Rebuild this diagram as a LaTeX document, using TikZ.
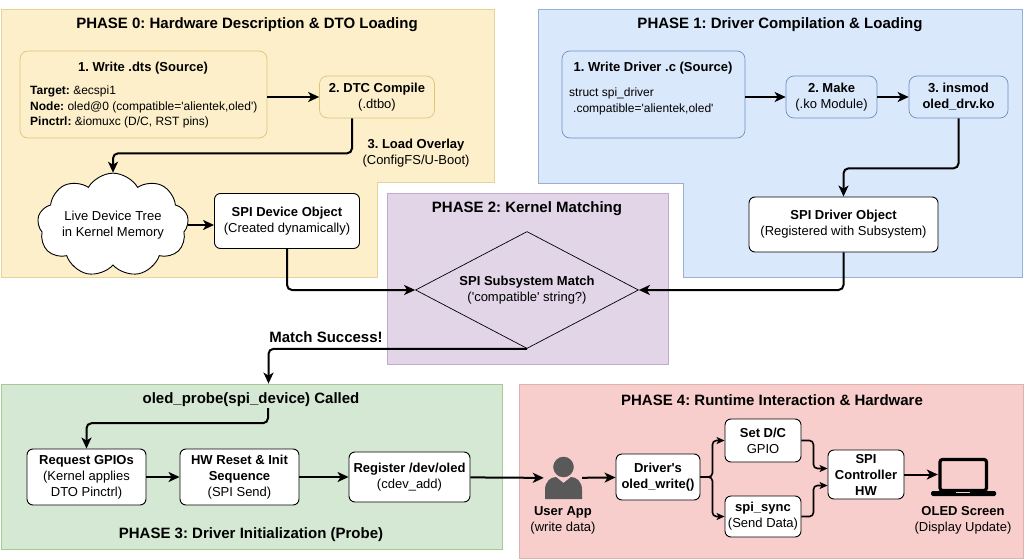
\documentclass[tikz,border=0pt]{standalone}
\usepackage{fontspec}
\setmainfont{Liberation Sans}
\usetikzlibrary{positioning,arrows.meta,shapes.geometric,shapes.symbols}
\frenchspacing

\definecolor{yelfill}{HTML}{FCEFCA}
\definecolor{yelline}{HTML}{D6B656}
\definecolor{blufill}{HTML}{DAE8FC}
\definecolor{bluline}{HTML}{6C8EBF}
\definecolor{purfill}{HTML}{E1D5E7}
\definecolor{purline}{HTML}{9673A6}
\definecolor{grnfill}{HTML}{D5E8D4}
\definecolor{grnline}{HTML}{82B366}
\definecolor{redfill}{HTML}{F8CECC}
\definecolor{redline}{HTML}{B85450}
\definecolor{icongray}{HTML}{595959}

\newcommand{\sq}{\textquotesingle}

\tikzset{
    txt/.style={font=\fontsize{13}{16}\selectfont, align=center, inner sep=1pt},
    code/.style={font=\fontsize{12}{15.5}\selectfont, align=left, anchor=west, inner sep=1pt},
    ttl/.style={font=\fontsize{15}{18}\selectfont\bfseries, inner sep=1pt},
    phase/.style={draw, line width=0.8pt, inner sep=0pt},
    wbox/.style={txt, draw=black, fill=white, rounded corners=6pt, line width=0.9pt},
    ybox/.style={txt, draw=yelline!80, fill=yelfill, rounded corners=8pt, line width=0.7pt},
    bbox/.style={txt, draw=bluline, fill=blufill, rounded corners=8pt, line width=0.7pt},
    flow/.style={line width=2pt, rounded corners=5pt, -{Stealth[length=11pt,width=10pt,inset=3pt]}},
    thinflow/.style={line width=1.6pt, rounded corners=4pt, -{Stealth[length=8pt,width=7pt,inset=2pt]}},
}

\begin{document}
\begin{tikzpicture}[x=1pt,y=-1pt]
    \useasboundingbox (0,0) rectangle (1024,559);

    % Draw the phase areas
    \filldraw[fill=yelfill, draw=yelline!60, line width=0.8pt] (1,9) -- (494,9) -- (494,182) -- (377,182) -- (377,277) -- (1,277) -- cycle;
    \filldraw[fill=blufill, draw=bluline!70, line width=0.8pt] (538,9) -- (1022,9) -- (1022,277) -- (683,277) -- (683,183) -- (538,183) -- cycle;
    \node[phase, fill=purfill, draw=purline!60, minimum width=281pt, minimum height=171pt] (p2) at (527.5,278.5) {};
    \node[phase, fill=grnfill, draw=grnline!70, minimum width=501pt, minimum height=165pt] (p3) at (251.5,466.5) {};
    \node[phase, fill=redfill, draw=redline!45, minimum width=504pt, minimum height=174pt] (p4) at (771,471) {};

    % Draw the titles
    \node[ttl] (t0) at (247,25) {PHASE 0: Hardware Description \& DTO Loading};
    \node[ttl] (t1) at (780,25) {PHASE 1: Driver Compilation \& Loading};
    \node[ttl] (t2) at (527,209) {PHASE 2: Kernel Matching};
    \node[ttl] (t3) at (251,535) {PHASE 3: Driver Initialization (Probe)};
    \node[ttl] (t4) at (772,400) {PHASE 4: Runtime Interaction \& Hardware};

    % Phase 0 nodes
    \node[ybox, minimum width=247pt, minimum height=87pt] (dts) at (143.5,94.5) {};
    \node[txt] (dtshead) at (143,68) {\textbf{1. Write .dts (Source)}};
    \node[code] (dtsbody) at (29,107) {\textbf{Target:} \&ecspi1\\\textbf{Node:} oled@0 (compatible=\sq alientek,oled\sq)\\\textbf{Pinctrl:} \&iomuxc (D/C, RST pins)};
    \node[ybox, minimum width=115pt, minimum height=42pt] (dtc) at (377,97) {\textbf{2. DTC Compile}\\(.dtbo)};
    \node[cloud, cloud puffs=9, cloud puff arc=120, aspect=1.8, draw, fill=white, line width=0.9pt, txt, inner sep=0pt, minimum width=150pt, minimum height=84pt] (ldt) at (113,225) {Live Device Tree\\in Kernel Memory};
    \node[wbox, minimum width=145pt, minimum height=55pt] (devobj) at (287,221) {\textbf{SPI Device Object}\\(Created dynamically)};
    \node[txt] (ovl) at (416,153) {\textbf{3. Load Overlay}\\(ConfigFS/U-Boot)};

    % Phase 1 nodes
    \node[bbox, minimum width=183pt, minimum height=87pt] (drvc) at (653.5,94.5) {};
    \node[txt] (drvchead) at (653,68) {\textbf{1. Write Driver .c (Source)}};
    \node[code] (drvcbody) at (568,101.5) {struct spi\_driver\\\hspace{4pt}.compatible=\sq alientek,oled\sq};
    \node[bbox, minimum width=91pt, minimum height=42pt] (make) at (831.5,97) {\textbf{2. Make}\\(.ko Module)};
    \node[bbox, minimum width=99pt, minimum height=42pt] (insmod) at (958.5,97) {\textbf{3. insmod}\\\textbf{oled\_drv.ko}};
    \node[wbox, minimum width=189pt, minimum height=55pt] (drvobj) at (843.5,224.5) {\textbf{SPI Driver Object}\\(Registered with Subsystem)};

    % Phase 2 node
    \node[diamond, draw, line width=0.7pt, txt, inner sep=0pt, aspect=1.9, minimum width=223pt, minimum height=117pt] (match) at (527,290) {\textbf{SPI Subsystem Match}\\(\sq compatible\sq{} string?)};
    \node[ttl] (success) at (326,337) {Match Success!};

    % Phase 3 nodes
    \node[ttl] (probe) at (251,400) {oled\_probe(spi\_device) Called};
    \node[wbox, minimum width=119pt, minimum height=56pt] (req) at (86.5,477) {\textbf{Request GPIOs}\\(Kernel applies\\DTO Pinctrl)};
    \node[wbox, minimum width=119pt, minimum height=56pt] (hwr) at (239.5,477) {\textbf{HW Reset \& Init}\\\textbf{Sequence}\\(SPI Send)};
    \node[wbox, minimum width=121pt, minimum height=50pt] (reg) at (409.5,477) {\textbf{Register /dev/oled}\\(cdev\_add)};

    % Phase 4 nodes
    \node[minimum width=38pt, minimum height=42pt, inner sep=0pt] (user) at (563,478) {};
    \node[txt] (userlbl) at (563,520.5) {\textbf{User App}\\(write data)};
    \node[wbox, minimum width=84pt, minimum height=46pt] (drvw) at (658,477) {\textbf{Driver\sq s}\\\textbf{oled\_write()}};
    \node[wbox, minimum width=76pt, minimum height=43pt] (setdc) at (763,440.5) {\textbf{Set D/C}\\GPIO};
    \node[wbox, minimum width=76pt, minimum height=41pt] (sync) at (763,516.5) {\textbf{spi\_sync}\\(Send Data)};
    \node[wbox, minimum width=76pt, minimum height=49pt] (spictl) at (866,474.5) {\textbf{SPI}\\\textbf{Controller}\\\textbf{HW}};
    \node[minimum width=50pt, minimum height=34pt, inner sep=0pt] (oled) at (963,475) {};
    \node[txt] (oledlbl) at (963,520.5) {\textbf{OLED Screen}\\(Display Update)};

    % Draw the icons
    \fill[icongray] (545,499) -- (545,490) .. controls (545,481) and (551,477) .. (556,477) -- (563.5,483) -- (571,477) .. controls (576,477) and (582,481) .. (582,490) -- (582,499) -- cycle;
    \filldraw[fill=icongray, draw=redfill, line width=1.2pt] (563.5,467) circle (11pt);
    \draw[line width=3.2pt, rounded corners=2.5pt] (940,459.5) rectangle (986.5,490.5);
    \fill[rounded corners=1.5pt] (931,491) -- (996,491) -- (996,496) -- (931,496) -- cycle;
    \fill[redfill] (956,491.6) rectangle (970,493.4);

    % Draw the connectors
    \draw[flow] (dts.east |- dtc.west) -- (dtc.west);
    \draw[flow] ([xshift=-25pt]dtc.south) -- ++(0,35) -| (ldt.north);
    \draw[flow] (ldt.east) -- (ldt.east -| devobj.west);
    \draw[flow] (devobj.south) |- (match.west);
    \draw[flow] (drvc.east |- make.west) -- (make.west);
    \draw[flow] (make) -- (insmod);
    \draw[flow] (insmod.south) -- ++(0,50) -| (drvobj.north);
    \draw[flow] (drvobj.south) |- (match.east);
    \draw[flow] (match.south) -| ([xshift=17pt]p3.north);
    \draw[flow] ([xshift=17pt]probe.south) -- ++(0,15) -| (req.north);
    \draw[flow] (req) -- (hwr);
    \draw[flow] (hwr) -- (reg);
    \draw[flow] (reg) -- (user);
    \draw[flow] (user) -- (drvw);
    \draw[thinflow] (drvw.east) -- ++(12,0) |- (setdc.west);
    \draw[thinflow] (drvw.east) -- ++(12,0) |- (sync.west);
    \draw[thinflow] (setdc.east) -- ++(12,0) |- ([yshift=6pt]spictl.west);
    \draw[thinflow] (sync.east) -- ++(12,0) |- ([yshift=-11pt]spictl.west);
    \draw[flow] (spictl.east) -- (spictl.east -| oled.west);
\end{tikzpicture}
\end{document}
